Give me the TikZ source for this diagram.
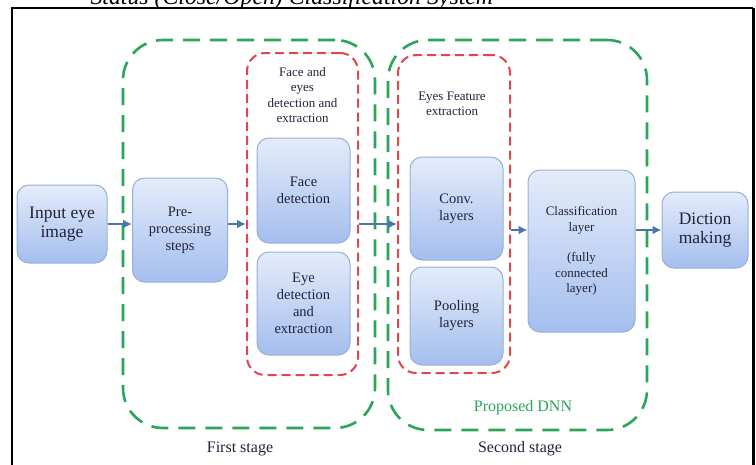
\documentclass[tikz,border=0pt]{standalone}
\usepackage{fontspec}
\setmainfont{Liberation Serif}
\usetikzlibrary{arrows.meta}

\definecolor{boxtop}{HTML}{E4ECFA}
\definecolor{boxbot}{HTML}{A4BEEE}
\definecolor{boxline}{HTML}{98AED6}
\definecolor{stagegreen}{HTML}{2AA55A}
\definecolor{partred}{HTML}{E0474C}
\definecolor{flowblue}{HTML}{4A76AE}
\definecolor{txt}{HTML}{22223A}

\newcommand\fbig{\fontsize{17.5}{18.5}\selectfont}
\newcommand\fmid{\fontsize{14.5}{17}\selectfont}
\newcommand\fsmall{\fontsize{13}{15.5}\selectfont}
\newcommand\flabel{\fontsize{16}{18}\selectfont}

\tikzset{
  block/.style={draw=boxline, line width=1pt, rounded corners=12pt, top color=boxtop, bottom color=boxbot, align=center, text=txt, inner sep=2pt},
  stage/.style={draw=stagegreen, line width=2.6pt, dash pattern=on 17pt off 10pt, rounded corners=40pt, inner sep=0pt},
  part/.style={draw=partred, line width=2pt, dash pattern=on 9pt off 5pt, rounded corners=18pt, inner sep=0pt},
  flow/.style={draw=flowblue, line width=2.4pt, -{Latex[length=9pt,width=9pt]}},
}

\begin{document}
\begin{tikzpicture}[x=1pt,y=-1pt]
    \useasboundingbox (0,0) rectangle (756,464);
    \node[anchor=base west, font=\fontsize{23.8}{24}\selectfont\itshape] (title) at (87,4) {Status (Close/Open) Classification System};
    \draw[line width=1.5pt] (12,470) |- (753,8);
    \draw[line width=3pt] (753,8) -- (753,470);

    \node[stage, minimum width=252pt, minimum height=388pt] (stageA) at (249,234) {};
    \node[stage, minimum width=259pt, minimum height=390pt] (stageB) at (517.5,235) {};
    \node[part, minimum width=111pt, minimum height=322pt] (partA) at (302.5,214) {};
    \node[part, minimum width=112pt, minimum height=318pt] (partB) at (454,214) {};

    \node[block, minimum width=90pt, minimum height=78pt, font=\fbig] (input) at (62,224) {Input eye\\image};
    \node[block, minimum width=95pt, minimum height=104pt, font=\fmid] (pre) at (180,230) {Pre-\\processing\\steps};
    \node[block, minimum width=93pt, minimum height=105pt, font=\fmid] (face) at (303.5,190.5) {Face\\detection};
    \node[block, minimum width=93pt, minimum height=103pt, font=\fmid] (eye) at (303.5,303.5) {Eye\\detection\\and\\extraction};
    \node[block, minimum width=93pt, minimum height=103pt, font=\fmid] (conv) at (456.5,208.5) {Conv.\\layers};
    \node[block, minimum width=93pt, minimum height=98pt, font=\fmid] (pool) at (456.5,316) {Pooling\\layers};
    \node[block, minimum width=107pt, minimum height=162pt, font=\fsmall] (cls) at (581.5,251) {Classification\\layer\\[15pt](fully\\connected\\layer)};
    \node[block, minimum width=86pt, minimum height=76pt, font=\fbig] (dict) at (705,230) {Diction\\making};

    \node[align=center, text=txt, font=\fsmall] (facelbl) at (302.5,95) {Face and\\eyes\\detection and\\extraction};
    \node[align=center, text=txt, font=\fsmall] (featlbl) at (452,104) {Eyes Feature\\extraction};
    \node[text=stagegreen, font=\flabel] (dnn) at (523,408) {Proposed DNN};
    \node[text=txt, font=\flabel] (first) at (240,449) {First stage};
    \node[text=txt, font=\flabel] (second) at (520,449) {Second stage};

    \draw[flow] (input) -- (input -| pre.west);
    \draw[flow] (pre.east |- input) -- (partA.west |- input);
    \draw[flow] (partA.east |- input) -- (partB.west |- input);
    \draw[flow] (partB.east |- dict) -- (cls.west |- dict);
    \draw[flow] (cls.east |- dict) -- (dict.west);
\end{tikzpicture}
\end{document}
